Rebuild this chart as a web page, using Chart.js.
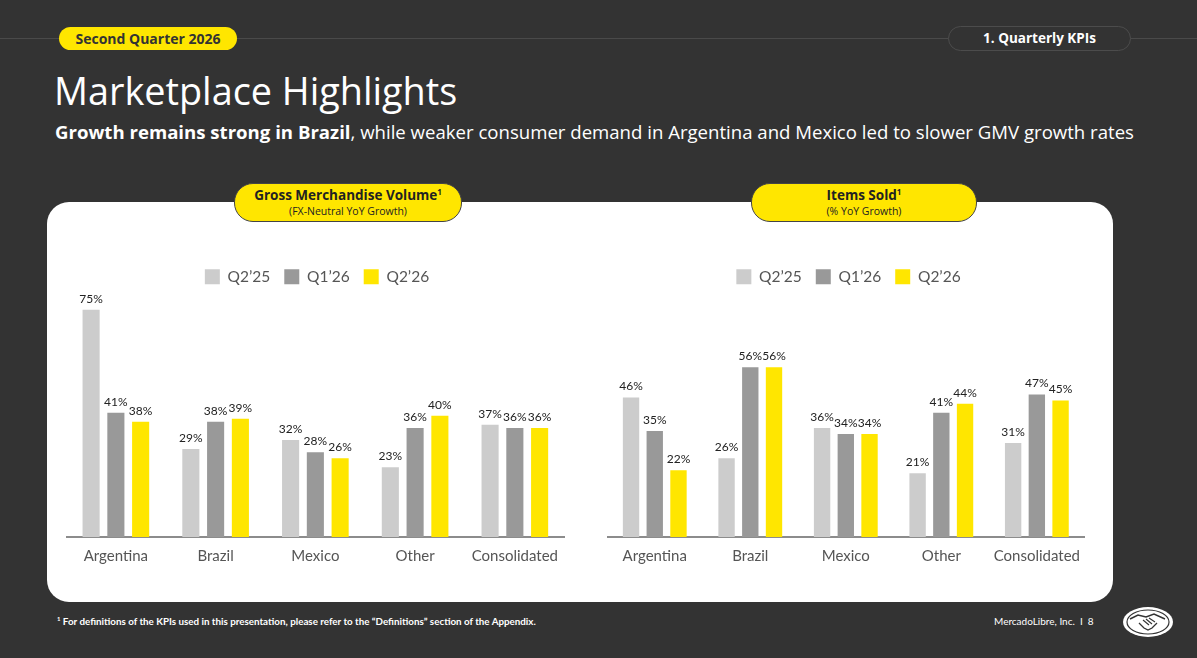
<!DOCTYPE html>
<html>
<head>
<meta charset="utf-8">
<script src="https://cdn.jsdelivr.net/npm/chart.js@4.4.1/dist/chart.umd.min.js"></script>
<style>
  html, body { margin:0; padding:0; }
  body { width:1197px; height:658px; background:#333333; position:relative; overflow:hidden; font-family:"Open Sans","Lato",sans-serif; color:#fff; }
  .hline { position:absolute; left:0; top:38px; width:1197px; height:1px; background:#4a4a4a; }
  .pill-q { position:absolute; left:59px; top:27px; width:178px; height:23px; background:#ffe600; border-radius:12px; color:#333; font-weight:700; font-size:14px; line-height:23px; text-align:center; }
  .pill-k { position:absolute; left:948px; top:26px; width:181px; height:23px; background:#333; border:1px solid #4c4c4c; border-radius:13px; color:#fff; font-weight:700; font-size:13.5px; line-height:23px; text-align:center; }
  .title { position:absolute; left:54px; top:66px; font-size:37.8px; font-weight:400; line-height:50px; white-space:nowrap; }
  .sub { position:absolute; left:55px; top:119px; font-size:18.6px; line-height:26px; white-space:nowrap; }
  .sub b { font-weight:700; }
  .card { position:absolute; left:47px; top:202px; width:1066px; height:400px; background:#fff; border-radius:22px; }
  .ctitle { position:absolute; top:183px; height:37px; background:#ffe600; border:1px solid #444; border-radius:19px; color:#222; text-align:center; }
  .ctitle .t1 { font-weight:700; font-size:13.5px; line-height:17px; margin-top:3px; }
  .ctitle .t1 sup { font-size:8px; line-height:0; vertical-align:5px; }
  .ctitle .t2 { font-size:10.5px; line-height:14px; }
  canvas { position:absolute; }
  .foot { position:absolute; left:57px; top:614px; font-size:9.8px; line-height:14px; white-space:nowrap; font-family:"Lato",sans-serif; font-weight:700; }
  .foot sup { font-size:6px; line-height:0; vertical-align:4px; }
  .page { position:absolute; left:994px; top:614px; font-size:10px; line-height:14px; white-space:nowrap; font-family:"Lato",sans-serif; }
  .logo { position:absolute; left:1122px; top:606px; }
</style>
</head>
<body>
<div class="hline"></div>
<div class="pill-q">Second Quarter 2026</div>
<div class="pill-k">1. Quarterly KPIs</div>
<div class="title">Marketplace Highlights</div>
<div class="sub"><b>Growth remains strong in Brazil</b>, while weaker consumer demand in Argentina and Mexico led to slower GMV growth rates</div>
<div class="card"></div>
<div class="ctitle" style="left:234px;width:226px;"><div class="t1">Gross Merchandise Volume<sup>1</sup></div><div class="t2">(FX-Neutral YoY Growth)</div></div>
<div class="ctitle" style="left:751px;width:224px;"><div class="t1">Items Sold<sup>1</sup></div><div class="t2">(% YoY Growth)</div></div>
<canvas id="gmv" style="left:66px;top:255px;width:502px;height:324px;" width="502" height="324"></canvas>
<canvas id="items" style="left:607px;top:255px;width:483px;height:324px;" width="483" height="324"></canvas>
<div class="foot"><sup>1</sup> For definitions of the KPIs used in this presentation, please refer to the “Definitions” section of the Appendix.</div>
<div class="page">MercadoLibre, Inc.&nbsp;&nbsp;I&nbsp;&nbsp;8</div>
<svg class="logo" width="52" height="32" viewBox="0 0 52 32">
  <ellipse cx="26" cy="16" rx="25" ry="15" fill="#fff"/>
  <ellipse cx="26" cy="16" rx="21" ry="12" fill="none" stroke="#333" stroke-width="1.2"/>
  <path d="M8 13 L16 9 L24 11 L32 8 L43 13" fill="none" stroke="#333" stroke-width="1.5"/>
  <path d="M17 17 L22 22 L26 24 L30 22 L35 17" fill="none" stroke="#333" stroke-width="1.3"/>
  <path d="M21 14 L27 19 M24 13 L30 18 M27 12 L33 16" fill="none" stroke="#333" stroke-width="1.1"/>
</svg>
<script>
const categories = ["Argentina", "Brazil", "Mexico", "Other", "Consolidated"];
const seriesNames = ["Q2\u201925", "Q1\u201926", "Q2\u201926"];
const seriesColors = ["#cccccc", "#999999", "#ffe600"];
const gmvQ225 = [75, 29, 32, 23, 37];
const gmvQ126 = [41, 38, 28, 36, 36];
const gmvQ226 = [38, 39, 26, 40, 36];
const itemsQ225 = [46, 26, 36, 21, 31];
const itemsQ126 = [35, 56, 34, 41, 47];
const itemsQ226 = [22, 56, 34, 44, 45];

const FONT = "Lato, 'Open Sans', sans-serif";

const valueLabels = {
  id: 'valueLabels',
  afterDatasetsDraw(chart) {
    const ctx = chart.ctx;
    ctx.save();
    ctx.font = "12px " + FONT;
    ctx.fillStyle = "#222";
    ctx.textAlign = "center";
    ctx.textBaseline = "bottom";
    chart.data.datasets.forEach((ds, i) => {
      const meta = chart.getDatasetMeta(i);
      meta.data.forEach((el, j) => {
        ctx.fillText(ds.data[j] + "%", el.x, el.y - 5);
      });
    });
    ctx.restore();
  }
};

function makeChart(id, values) {
  return new Chart(document.getElementById(id), {
    type: 'bar',
    data: {
      labels: categories,
      datasets: values.map((v, i) => ({
        label: seriesNames[i],
        data: v,
        backgroundColor: seriesColors[i],
        borderWidth: 0,
        categoryPercentage: 0.745,
        barPercentage: 0.69
      }))
    },
    options: {
      responsive: false,
      animation: false,
      layout: { padding: { top: 0, bottom: 4, left: 0, right: 0 } },
      plugins: {
        legend: {
          position: 'top',
          labels: { boxWidth: 15, boxHeight: 15, padding: 14, color: "#555", font: { size: 15.5, family: FONT } }
        },
        tooltip: { enabled: false }
      },
      scales: {
        x: {
          grid: { display: false, drawTicks: false },
          border: { display: true, color: "#8c8c8c", width: 2 },
          ticks: { color: "#555", padding: 10, font: { size: 15, family: FONT } }
        },
        y: { display: false, min: 0, max: 80 }
      }
    },
    plugins: [valueLabels]
  });
}

makeChart('gmv', [gmvQ225, gmvQ126, gmvQ226]);
makeChart('items', [itemsQ225, itemsQ126, itemsQ226]);
</script>
</body>
</html>
